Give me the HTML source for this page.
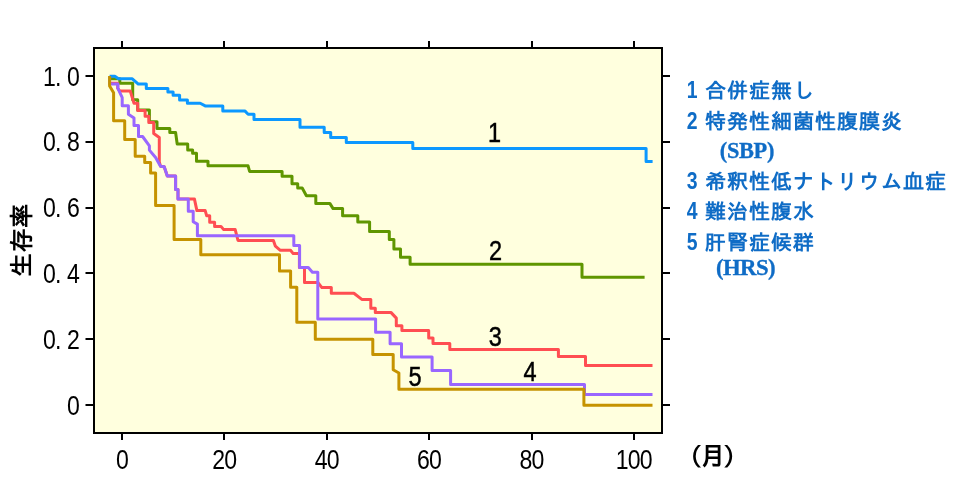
<!DOCTYPE html>
<html lang="ja">
<head>
<meta charset="utf-8">
<title>生存率</title>
<style>
html,body{margin:0;padding:0;background:#fff;}
body{width:974px;height:502px;overflow:hidden;}
svg{display:block;}
.jp{font-family:"Liberation Sans","IPAGothic",sans-serif;}
.sr{font-family:"Liberation Serif","Noto Serif CJK JP",serif;}
</style>
</head>
<body>
<svg width="974" height="502" viewBox="0 0 974 502">
<rect x="0" y="0" width="974" height="502" fill="#fff"/>
<rect x="94" y="48" width="568" height="385" fill="#FFFFDE" stroke="#000" stroke-width="2"/>
<g stroke="#000" stroke-width="2" fill="none">
<path d="M122.0 47.0 V41.0 M122.0 434.0 V440.0"/>
<path d="M224.0 47.0 V41.0 M224.0 434.0 V440.0"/>
<path d="M327.0 47.0 V41.0 M327.0 434.0 V440.0"/>
<path d="M429.0 47.0 V41.0 M429.0 434.0 V440.0"/>
<path d="M532.0 47.0 V41.0 M532.0 434.0 V440.0"/>
<path d="M634.0 47.0 V41.0 M634.0 434.0 V440.0"/>
<path d="M93.0 405.0 H85.5 M663.0 405.0 H670.0"/>
<path d="M93.0 339.0 H85.5 M663.0 339.0 H670.0"/>
<path d="M93.0 273.0 H85.5 M663.0 273.0 H670.0"/>
<path d="M93.0 208.0 H85.5 M663.0 208.0 H670.0"/>
<path d="M93.0 142.0 H85.5 M663.0 142.0 H670.0"/>
<path d="M93.0 76.0 H85.5 M663.0 76.0 H670.0"/>
</g>
<g fill="none" stroke-width="3" stroke-linejoin="round" stroke-linecap="butt">
<polyline stroke="#5F9600" points="109.6,78.8 119.8,78.8 119.8,83.2 132.7,83.2 132.7,99.8 137.7,99.8 137.7,110.0 149.4,110.0 149.4,121.7 157.0,121.7 157.0,128.5 169.8,128.5 169.8,132.5 175.6,132.5 177.2,144.0 187.7,144.0 187.7,150.1 192.6,150.1 192.6,153.2 196.5,153.2 196.5,161.2 208.0,161.2 208.0,165.7 248.0,165.7 249.6,171.4 282.1,171.4 282.1,176.3 292.0,176.3 292.0,183.7 297.7,183.7 297.7,188.1 302.2,188.1 306.4,195.7 315.8,195.7 315.8,203.4 329.8,203.4 333.1,208.6 342.6,208.6 342.6,215.7 357.8,215.7 357.8,222.0 369.6,222.0 369.6,231.5 389.3,231.5 389.3,239.4 393.9,239.4 393.9,249.0 400.5,249.0 400.5,257.2 410.1,257.2 410.1,264.2 582.0,264.2 582.0,277.3 644.6,277.3"/>
<polyline stroke="#0C98FF" points="109.6,76.2 114.8,76.2 118.5,78.8 132.3,78.8 138.3,84.1 146.3,84.1 146.3,88.4 167.9,88.4 167.9,91.9 173.1,91.9 173.1,95.2 179.6,95.2 179.6,100.1 187.4,100.1 187.4,103.2 200.2,103.2 205.2,105.9 222.8,105.9 222.8,110.9 244.8,110.9 248.1,114.2 254.0,114.2 254.0,119.4 300.0,119.4 300.0,127.3 324.2,127.3 324.2,132.6 330.7,132.6 330.7,137.5 346.3,137.5 346.3,142.4 412.8,142.4 412.8,148.4 646.1,148.4 646.1,161.5 652.6,161.5"/>
<polyline stroke="#FF4E52" points="110.5,83.3 117.7,83.3 117.7,88.2 119.6,90.9 130.2,90.9 134.0,103.2 137.7,103.2 137.7,110.6 145.1,110.6 145.1,116.2 148.8,116.2 148.8,122.6 153.7,122.6 153.7,133.5 159.3,137.4 159.3,161.9 160.5,166.2 164.2,166.8 167.3,176.0 175.6,176.0 175.6,189.4 178.0,189.4 178.0,198.9 194.4,198.9 196.9,210.6 205.2,210.6 206.7,215.8 209.7,215.8 209.7,222.3 214.6,222.3 214.6,226.4 221.0,226.4 223.7,229.6 235.2,229.6 238.0,240.5 273.4,240.5 275.4,246.2 280.3,250.3 290.5,250.3 293.2,253.6 299.4,253.6 299.4,267.6 304.5,267.6 304.5,282.6 318.0,282.6 321.9,287.6 331.3,287.6 331.3,293.3 353.9,293.3 361.8,299.4 370.8,299.4 370.8,308.3 375.3,308.3 375.3,312.4 390.9,312.4 396.3,318.1 396.3,325.7 401.9,325.7 401.9,330.4 428.7,330.4 428.7,338.1 433.0,338.1 433.0,343.6 449.8,343.6 449.8,349.4 558.4,349.4 558.4,356.5 585.5,356.5 585.5,365.4 652.5,365.4"/>
<polyline stroke="#9966FF" points="109.6,76.5 109.6,83.9 117.9,83.9 117.9,88.4 122.2,97.7 122.2,105.7 128.4,105.7 128.4,114.3 134.0,118.0 134.0,125.4 138.5,125.4 138.5,136.5 142.6,136.5 149.4,145.8 149.4,150.1 155.6,157.5 160.5,166.2 164.2,166.8 167.3,176.0 175.6,176.0 175.6,189.4 178.0,189.4 178.0,198.9 188.3,198.9 188.3,211.2 193.2,211.2 193.2,221.7 197.4,224.1 197.4,235.8 293.8,235.8 293.8,245.4 299.6,245.4 299.6,267.6 308.3,267.6 312.4,272.2 317.8,272.2 317.8,319.1 375.6,319.1 375.6,332.3 390.1,332.3 390.1,343.8 401.5,343.8 401.5,357.0 432.1,357.0 432.1,370.6 450.6,370.6 450.6,384.4 584.5,384.4 584.5,394.4 652.5,394.4"/>
<polyline stroke="#C59300" points="109.6,76.0 109.6,85.9 113.6,92.7 113.6,120.7 124.7,120.7 124.7,139.4 135.2,139.4 135.2,156.3 144.7,156.3 144.7,162.5 150.6,162.5 150.6,173.0 155.6,173.0 155.6,205.4 174.1,205.4 174.1,239.6 200.8,239.6 200.8,254.7 279.5,254.7 279.5,270.9 290.6,270.9 290.6,287.3 296.8,287.3 296.8,322.2 315.3,322.2 315.3,339.3 372.8,339.3 372.8,354.4 393.2,354.4 393.2,369.8 398.9,373.0 398.9,389.3 583.9,389.3 583.9,405.3 652.5,405.3"/>
</g>
<text transform="scale(0.84,1)" x="87.50" y="414.6" font-size="27.5" font-weight="normal" fill="#000" text-anchor="middle" font-family="'Liberation Sans','IPAGothic',sans-serif">0</text>
<text transform="scale(0.84,1)" x="58.93 69.29 87.50" y="348.8" font-size="27.5" font-weight="normal" fill="#000" text-anchor="middle" font-family="'Liberation Sans','IPAGothic',sans-serif">0.2</text>
<text transform="scale(0.84,1)" x="58.93 69.29 87.50" y="283.0" font-size="27.5" font-weight="normal" fill="#000" text-anchor="middle" font-family="'Liberation Sans','IPAGothic',sans-serif">0.4</text>
<text transform="scale(0.84,1)" x="58.93 69.29 87.50" y="217.2" font-size="27.5" font-weight="normal" fill="#000" text-anchor="middle" font-family="'Liberation Sans','IPAGothic',sans-serif">0.6</text>
<text transform="scale(0.84,1)" x="58.93 69.29 87.50" y="151.4" font-size="27.5" font-weight="normal" fill="#000" text-anchor="middle" font-family="'Liberation Sans','IPAGothic',sans-serif">0.8</text>
<text transform="scale(0.84,1)" x="58.93 69.29 87.50" y="85.6" font-size="27.5" font-weight="normal" fill="#000" text-anchor="middle" font-family="'Liberation Sans','IPAGothic',sans-serif">1.0</text>
<text transform="scale(0.84,1)" x="145.60" y="469.0" font-size="27.5" font-weight="normal" fill="#000" text-anchor="middle" font-family="'Liberation Sans','IPAGothic',sans-serif">0</text>
<text transform="scale(0.84,1)" x="260.36 274.64" y="469.0" font-size="27.5" font-weight="normal" fill="#000" text-anchor="middle" font-family="'Liberation Sans','IPAGothic',sans-serif">20</text>
<text transform="scale(0.84,1)" x="382.26 396.55" y="469.0" font-size="27.5" font-weight="normal" fill="#000" text-anchor="middle" font-family="'Liberation Sans','IPAGothic',sans-serif">40</text>
<text transform="scale(0.84,1)" x="504.17 518.45" y="469.0" font-size="27.5" font-weight="normal" fill="#000" text-anchor="middle" font-family="'Liberation Sans','IPAGothic',sans-serif">60</text>
<text transform="scale(0.84,1)" x="626.07 640.36" y="469.0" font-size="27.5" font-weight="normal" fill="#000" text-anchor="middle" font-family="'Liberation Sans','IPAGothic',sans-serif">80</text>
<text transform="scale(0.84,1)" x="740.83 755.12 769.40" y="469.0" font-size="27.5" font-weight="normal" fill="#000" text-anchor="middle" font-family="'Liberation Sans','IPAGothic',sans-serif">100</text>
<text transform="scale(0.84,1)" x="588.69" y="142.4" font-size="28" font-weight="normal" fill="#000" stroke="#000" stroke-width="0.5" text-anchor="middle" font-family="'Liberation Sans','IPAGothic',sans-serif">1</text>
<text transform="scale(0.84,1)" x="589.88" y="260.4" font-size="28" font-weight="normal" fill="#000" stroke="#000" stroke-width="0.5" text-anchor="middle" font-family="'Liberation Sans','IPAGothic',sans-serif">2</text>
<text transform="scale(0.84,1)" x="589.64" y="345.9" font-size="28" font-weight="normal" fill="#000" stroke="#000" stroke-width="0.5" text-anchor="middle" font-family="'Liberation Sans','IPAGothic',sans-serif">3</text>
<text transform="scale(0.84,1)" x="630.95" y="380.9" font-size="28" font-weight="normal" fill="#000" stroke="#000" stroke-width="0.5" text-anchor="middle" font-family="'Liberation Sans','IPAGothic',sans-serif">4</text>
<text transform="scale(0.84,1)" x="494.05" y="386.2" font-size="28" font-weight="normal" fill="#000" stroke="#000" stroke-width="0.5" text-anchor="middle" font-family="'Liberation Sans','IPAGothic',sans-serif">5</text>
<text class="jp" transform="translate(29.5,240) rotate(-90)" text-anchor="middle" font-size="24" letter-spacing="0.7" font-weight="bold" fill="#000">生存率</text>
<text class="jp" x="677.8 700.2 723.6" y="464.8" font-size="24" font-weight="bold" fill="#000">（<tspan font-size="25">月</tspan>）</text>
<text class="jp" y="98.0" font-weight="bold" fill="#0F6CC6"><tspan x="686.8" font-size="24" textLength="10.8" lengthAdjust="spacingAndGlyphs">1</tspan><tspan font-size="21"> </tspan><tspan x="705.1" font-size="21" letter-spacing="1">合併症無し</tspan></text>
<text class="jp" y="128.6" font-weight="bold" fill="#0F6CC6"><tspan x="686.8" font-size="24" textLength="10.8" lengthAdjust="spacingAndGlyphs">2</tspan><tspan font-size="21"> </tspan><tspan x="705.1" font-size="21" letter-spacing="1">特発性細菌性腹膜炎</tspan></text>
<text class="sr" x="719.8" y="158.2" font-size="22.4" letter-spacing="-0.35" font-weight="bold" fill="#0F6CC6" stroke="#0F6CC6" stroke-width="0.3">(SBP)</text>
<text class="jp" y="188.6" font-weight="bold" fill="#0F6CC6"><tspan x="686.8" font-size="24" textLength="10.8" lengthAdjust="spacingAndGlyphs">3</tspan><tspan font-size="21"> </tspan><tspan x="705.1" font-size="21" letter-spacing="1">希釈性低ナトリウム血症</tspan></text>
<text class="jp" y="219.0" font-weight="bold" fill="#0F6CC6"><tspan x="686.8" font-size="24" textLength="10.8" lengthAdjust="spacingAndGlyphs">4</tspan><tspan font-size="21"> </tspan><tspan x="705.1" font-size="21" letter-spacing="1">難治性腹水</tspan></text>
<text class="jp" y="249.9" font-weight="bold" fill="#0F6CC6"><tspan x="686.8" font-size="24" textLength="10.8" lengthAdjust="spacingAndGlyphs">5</tspan><tspan font-size="21"> </tspan><tspan x="705.1" font-size="21" letter-spacing="1">肝腎症候群</tspan></text>
<text class="sr" x="716" y="274.7" font-size="22.8" letter-spacing="-0.6" font-weight="bold" fill="#0F6CC6" stroke="#0F6CC6" stroke-width="0.3">(HRS)</text>
</svg>
</body>
</html>
